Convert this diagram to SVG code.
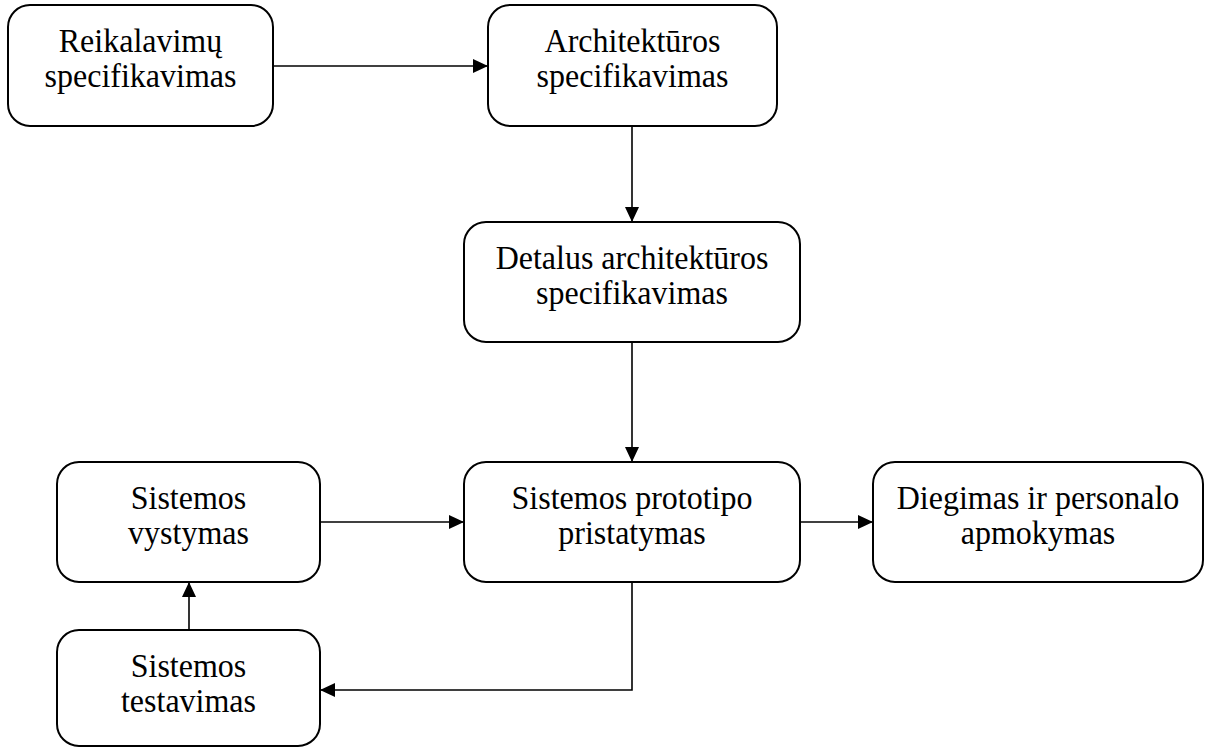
<svg xmlns="http://www.w3.org/2000/svg" width="1213" height="748" viewBox="0 0 1213 748">
  <style>
    .box { fill: #ffffff; stroke: #000000; stroke-width: 2; }
    .lbl { font-family: "Liberation Serif", "Times New Roman", serif; font-size: 32px; fill: #000000; text-anchor: middle; }
    .edge { fill: none; stroke: #000000; stroke-width: 1.6; marker-end: url(#arrow); }
  </style>
  <defs>
    <marker id="arrow" viewBox="0 0 10 10" refX="10" refY="5" markerWidth="15" markerHeight="14" markerUnits="userSpaceOnUse" orient="auto" preserveAspectRatio="none">
      <path d="M0,0 L10,5 L0,10 Z" fill="#000000"/>
    </marker>
  </defs>

  <!-- connectors -->
  <g id="connectors">
    <path class="edge" d="M273,66 L488,66"/>
    <path class="edge" d="M632,126 L632,222"/>
    <path class="edge" d="M632,342 L632,462"/>
    <path class="edge" d="M320,522 L464,522"/>
    <path class="edge" d="M800,522 L873,522"/>
    <path class="edge" d="M632,582 L632,690 L320,690"/>
    <path class="edge" d="M189,630 L189,582"/>
  </g>

  <!-- labels use a slightly tall serif: stretched 1.08 vertically about the baseline -->
  <g id="reikalavimu">
    <rect class="box" x="8" y="5" width="265" height="121" rx="22"/>
    <text class="lbl" transform="translate(140.5,51.5) scale(1,1.08)">Reikalavimų</text>
    <text class="lbl" transform="translate(140.5,86.5) scale(1,1.08)">specifikavimas</text>
  </g>

  <g id="architekturos">
    <rect class="box" x="488" y="5" width="289" height="121" rx="22"/>
    <text class="lbl" transform="translate(632.5,51.5) scale(1,1.08)">Architektūros</text>
    <text class="lbl" transform="translate(632.5,86.5) scale(1,1.08)">specifikavimas</text>
  </g>

  <g id="detalus">
    <rect class="box" x="464" y="222" width="336" height="120" rx="22"/>
    <text class="lbl" transform="translate(632,268.5) scale(1,1.08)">Detalus architektūros</text>
    <text class="lbl" transform="translate(632,303.5) scale(1,1.08)">specifikavimas</text>
  </g>

  <g id="prototipas">
    <rect class="box" x="464" y="462" width="336" height="120" rx="22"/>
    <text class="lbl" transform="translate(632,508.5) scale(1,1.08)">Sistemos prototipo</text>
    <text class="lbl" transform="translate(632,543.5) scale(1,1.08)">pristatymas</text>
  </g>

  <g id="diegimas">
    <rect class="box" x="873" y="462" width="330" height="120" rx="22"/>
    <text class="lbl" transform="translate(1038,508.5) scale(1,1.08)">Diegimas ir personalo</text>
    <text class="lbl" transform="translate(1038,543.5) scale(1,1.08)">apmokymas</text>
  </g>

  <g id="vystymas">
    <rect class="box" x="57" y="462" width="263" height="120" rx="22"/>
    <text class="lbl" transform="translate(188.5,508.5) scale(1,1.08)">Sistemos</text>
    <text class="lbl" transform="translate(188.5,543.5) scale(1,1.08)">vystymas</text>
  </g>

  <g id="testavimas">
    <rect class="box" x="57" y="630" width="263" height="116" rx="22"/>
    <text class="lbl" transform="translate(188.5,676.5) scale(1,1.08)">Sistemos</text>
    <text class="lbl" transform="translate(188.5,711.5) scale(1,1.08)">testavimas</text>
  </g>
</svg>
